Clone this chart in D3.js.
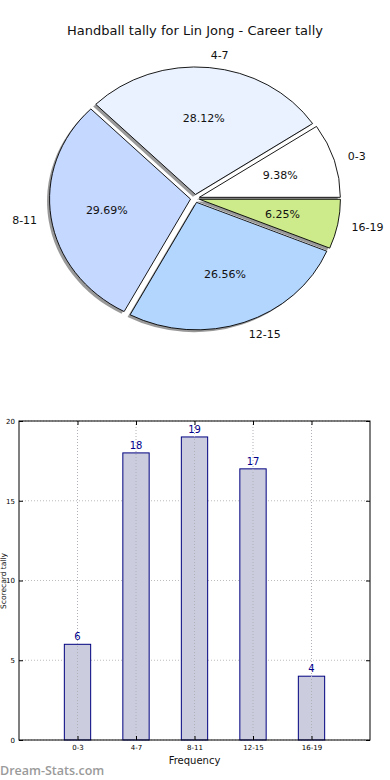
<!DOCTYPE html>
<html><head><meta charset="utf-8">
<script src="https://cdn.jsdelivr.net/npm/d3@7"></script>
<style>body{margin:0;background:#fff}svg{display:block}text{font-family:"DejaVu Sans",sans-serif}</style>
</head><body>
<svg id="c" width="390" height="780"></svg>
<script>
const categories = ["0-3","4-7","8-11","12-15","16-19"];
const values = [6,18,19,17,4];
const pieColors = ["#ffffff","#eaf2ff","#c5d8ff","#b3d6ff","#cdeb8b"];
const yTicks = [0,5,10,15,20];
const title = "Handball tally for Lin Jong - Career tally";

function fmtPct(v){
  const s=v*100; const f=Math.floor(s); const d=s-f;
  let r;
  if (Math.abs(d-0.5)<1e-9) r = (f%2===0)?f:f+1; else r=Math.round(s);
  return (r/100).toFixed(2)+"%";
}

const svg = d3.select("#c");
svg.append("text").attr("x",195).attr("y",35).attr("text-anchor","middle").attr("font-size",13).attr("fill","#111").text(title);

const cx=195, cy=198.5, rx=141, ry=127.5, ex=0.032, sh=0.018;
const pie = d3.pie().sort(null).startAngle(Math.PI/2).endAngle(Math.PI/2-2*Math.PI);
const arcs = pie(values);
const arc = d3.arc().innerRadius(0).outerRadius(1);
const total = d3.sum(values);
const g = svg.append("g");
arcs.forEach((a,i)=>{
  const m=(a.startAngle+a.endAngle)/2;
  const ox=Math.sin(m)*ex, oy=-Math.cos(m)*ex;
  const sg=g.append("g").attr("transform",`translate(${cx},${cy}) scale(${rx},${ry})`);
  sg.append("path").attr("d",arc(a)).attr("transform",`translate(${ox-sh},${oy+sh})`)
    .attr("fill","#777").attr("fill-opacity",0.75).attr("stroke","none");
  sg.append("path").attr("d",arc(a)).attr("transform",`translate(${ox},${oy})`)
    .attr("fill",pieColors[i]).attr("stroke","#000").attr("stroke-width",0.9)
    .attr("vector-effect","non-scaling-stroke").attr("stroke-linejoin","round");
});
arcs.forEach((a,i)=>{
  const m=(a.startAngle+a.endAngle)/2;
  const sx=Math.sin(m), sy=-Math.cos(m);
  const bx=cx+sx*ex*rx, by=cy+sy*ex*ry;
  g.append("text").attr("x",bx+0.6*sx*rx).attr("y",by+0.6*sy*ry).attr("dy","0.35em")
    .attr("text-anchor","middle").attr("font-size",11).attr("fill","#111")
    .text(fmtPct(values[i]/total*100));
  g.append("text").attr("x",bx+1.1*sx*rx).attr("y",by+1.1*sy*ry).attr("dy","0.35em")
    .attr("text-anchor",sx>0?"start":"end").attr("font-size",11).attr("fill","#111")
    .text(categories[i]);
});

const L=19,R=370,T=421,B=740;
const x=d3.scaleLinear().domain([-1,5]).range([L,R]);
const y=d3.scaleLinear().domain([0,20]).range([B,T]);
const bg=svg.append("g");
bg.selectAll(".gy").data(yTicks).enter().append("line")
  .attr("x1",L).attr("x2",R).attr("y1",d=>y(d)).attr("y2",d=>y(d))
  .attr("stroke","#bdbdbd").attr("stroke-dasharray","1,2");
const bw = x(0.45)-x(0);
bg.selectAll(".bar").data(values).enter().append("rect")
  .attr("x",(d,i)=>x(i)-bw/2).attr("width",bw).attr("y",d=>y(d)).attr("height",d=>B-y(d))
  .attr("fill","#ccccdf").attr("stroke","#000080").attr("stroke-width",1);
bg.selectAll(".gx").data(categories).enter().append("line")
  .attr("x1",(d,i)=>x(i)).attr("x2",(d,i)=>x(i)).attr("y1",T).attr("y2",B)
  .attr("stroke","#b0b0b8").attr("stroke-dasharray","1,2");
bg.selectAll(".vl").data(values).enter().append("text")
  .attr("x",(d,i)=>x(i)).attr("y",d=>y(d)-4).attr("text-anchor","middle")
  .attr("font-size",10).attr("fill","#00008b").text(d=>d);
bg.append("rect").attr("x",L).attr("y",T).attr("width",R-L).attr("height",B-T)
  .attr("fill","none").attr("stroke","#000").attr("stroke-width",1);
const ya=d3.axisLeft(y).tickValues(yTicks).tickSize(-4).tickPadding(4);
const yg=bg.append("g").attr("transform",`translate(${L},0)`).call(ya);
yg.select(".domain").remove();
yg.selectAll("text").attr("font-size",7).attr("font-family","DejaVu Sans, sans-serif");
const yr=bg.append("g").attr("transform",`translate(${R},0)`).call(d3.axisRight(y).tickValues(yTicks).tickSize(-4).tickFormat(""));
yr.select(".domain").remove();
const xa=d3.axisBottom(x).tickValues([0,1,2,3,4]).tickFormat(i=>categories[i]).tickSize(-4).tickPadding(5);
const xg=bg.append("g").attr("transform",`translate(0,${B})`).call(xa);
xg.select(".domain").remove();
xg.selectAll("text").attr("font-size",7).attr("font-family","DejaVu Sans, sans-serif");
const xt=bg.append("g").attr("transform",`translate(0,${T})`).call(d3.axisTop(x).tickValues([0,1,2,3,4]).tickSize(-4).tickFormat(""));
xt.select(".domain").remove();
bg.selectAll(".tick line").attr("stroke","#000");
bg.append("text").attr("x",(L+R)/2).attr("y",764).attr("text-anchor","middle").attr("font-size",10).attr("fill","#111").text("Frequency");
bg.append("text").attr("transform","translate(6,581) rotate(-90)").attr("text-anchor","middle")
  .attr("font-size",7.5).attr("fill","#111").text("Scorecard tally");
svg.append("text").attr("x",0).attr("y",775).attr("font-size",12.5).attr("font-weight",600)
  .attr("fill","#9a9a9a").style("font-family","'Open Sans', sans-serif").text("Dream-Stats.com");
</script>
</body></html>
